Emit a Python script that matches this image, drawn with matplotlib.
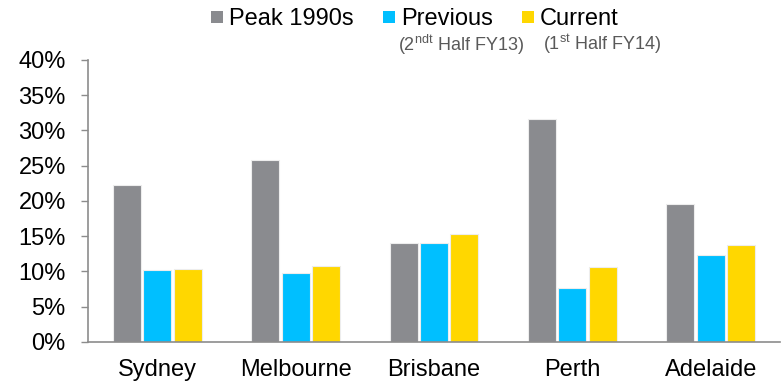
import matplotlib
matplotlib.use("Agg")
import numpy as np
import matplotlib.pyplot as plt
from matplotlib.lines import Line2D
from matplotlib.ticker import FuncFormatter

plt.rcParams["font.family"] = ["Liberation Sans", "DejaVu Sans"]
plt.rcParams["mathtext.default"] = "regular"

CITIES = ["Sydney", "Melbourne", "Brisbane", "Perth", "Adelaide"]
PEAK_1990S = [22.3, 25.8, 14.1, 31.7, 19.6]
PREVIOUS = [10.2, 9.8, 14.1, 7.7, 12.3]
CURRENT = [10.3, 10.8, 15.3, 10.6, 13.7]

SERIES = ["Peak 1990s", "Previous", "Current"]
COLORS = ["#8A8B8F", "#00BFFF", "#FFD700"]
Y_TICKS = [0, 5, 10, 15, 20, 25, 30, 35, 40]

fig = plt.figure(figsize=(7.82, 3.85), dpi=100)
ax = fig.add_axes([0.1125, 0.1117, 0.885, 0.7325])

x = np.arange(len(CITIES))
width = 0.202
step = 0.22
for i, (vals, col) in enumerate(zip([PEAK_1990S, PREVIOUS, CURRENT], COLORS)):
    ax.bar(x + (i - 1) * step, vals, width=width, color=col,
           edgecolor="#EDEDED", linewidth=0.8, zorder=2)

ax.set_xlim(-0.5, len(CITIES) - 0.5)
ax.set_ylim(0, 40)
ax.set_yticks(Y_TICKS)
ax.yaxis.set_major_formatter(FuncFormatter(lambda v, _: f"{v:.0f}%"))
ax.set_xticks(x)
ax.set_xticklabels(CITIES)
ax.tick_params(axis="y", labelsize=17, length=5, width=1, color="#8C8C8C",
               direction="out", pad=11)
ax.tick_params(axis="x", labelsize=17, length=0, pad=12)

for s in ["top", "right"]:
    ax.spines[s].set_visible(False)
for s in ["left", "bottom"]:
    ax.spines[s].set_color("#8C8C8C")
    ax.spines[s].set_linewidth(1.2)

handles = [Line2D([], [], marker="s", linestyle="none", markersize=8.5,
                  color=c, markeredgewidth=0) for c in COLORS]
fig.legend(handles, SERIES, loc="center", bbox_to_anchor=(0.531, 0.951),
           ncol=3, frameon=False, fontsize=17, handlelength=0.5,
           handletextpad=0.25, columnspacing=1.25, borderaxespad=0,
           borderpad=0)

# period notes under the legend entries
fig.text(0.509, 0.884, "(2$^{ndt}$ Half FY13)", fontsize=13, color="#595959",
         ha="left", va="center")
fig.text(0.694, 0.884, "(1$^{st}$ Half FY14)", fontsize=13, color="#595959",
         ha="left", va="center")

fig.savefig("out.png", dpi=100, facecolor="white")
